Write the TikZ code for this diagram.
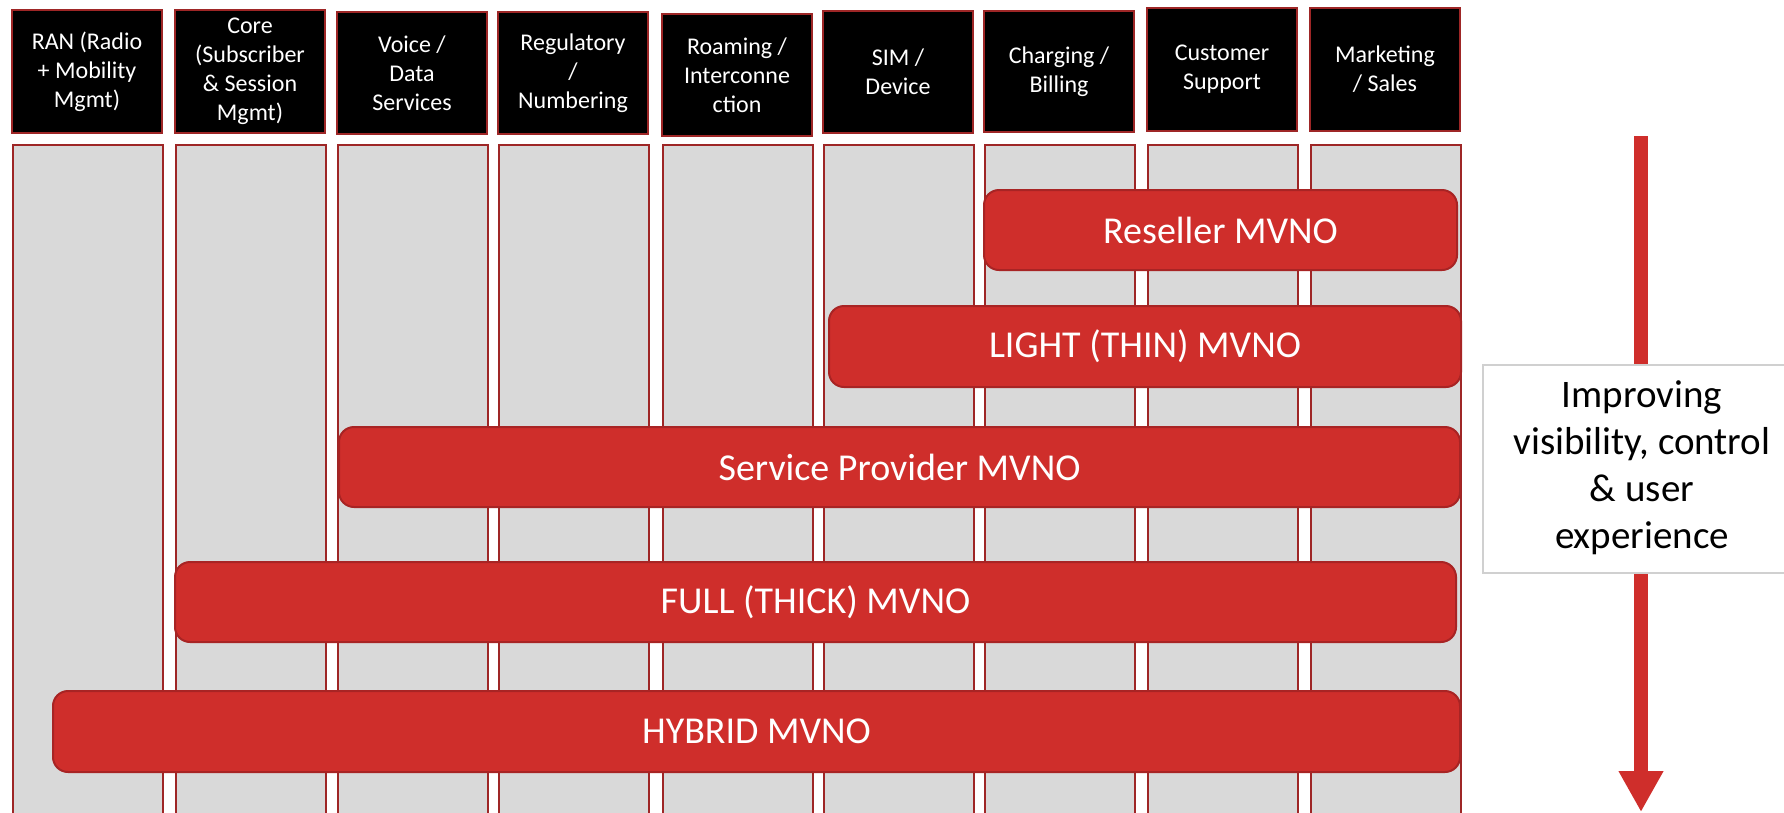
\documentclass[tikz,border=0pt]{standalone}
\usepackage{fontspec}
\setmainfont{Carlito}
\usetikzlibrary{arrows.meta}
\definecolor{edgered}{HTML}{9E2626}
\definecolor{barred}{HTML}{CF2E2B}
\definecolor{baredge}{HTML}{A82424}
\definecolor{colgrey}{HTML}{D9D9D9}
\definecolor{boxgrey}{HTML}{D0D0D0}
\tikzset{
  hdrbox/.style={draw=edgered, line width=2.2pt, fill=black, text=white, align=center,
    inner sep=0pt, font=\fontsize{24}{29}\selectfont},
  colbox/.style={draw=edgered, line width=1.8pt, fill=colgrey, inner sep=0pt},
  mvnobar/.style={draw=baredge, line width=2pt, fill=barred, rounded corners=15pt,
    text=white, inner sep=0pt, font=\fontsize{38}{46}\selectfont},
  gainbox/.style={draw=boxgrey, line width=1.5pt, fill=white, inner sep=0pt},
  gaintext/.style={align=center, font=\fontsize{39}{47}\selectfont, inner sep=0pt},
  trendarrow/.style={draw=barred, line width=14pt,
    -{Triangle[length=41pt 0 0, width=42pt 0 0]}}
}
\begin{document}
\begin{tikzpicture}[x=1pt,y=-1pt]
\useasboundingbox (0,0) rectangle (1784,812);
\clip (0,0) rectangle (1784,812);
\fill[white] (0,0) rectangle (1784,812);

% grey function columns
\foreach \i/\l in {1/12,2/175,3/337,4/498,5/662,6/823,7/984,8/1147,9/1310}{
  \node[colbox, minimum width=150pt, minimum height=700pt, anchor=north west]
    (col\i) at (\l,144) {};
}

% column headers
\foreach \i/\l/\t/\b/\txt in {
  1/12/10/133/{RAN (Radio\\+ Mobility\\Mgmt)},
  2/175/10/133/{Core\\(Subscriber\\\& Session\\Mgmt)},
  3/337/12/134/{Voice /\\Data\\Services},
  4/498/12/134/{Regulatory\\/\\Numbering},
  5/662/14/136/{Roaming /\\Interconne\\ction},
  6/823/11/133/{SIM /\\Device},
  7/984/11/132/{Charging /\\Billing},
  8/1147/8/131/{Customer\\Support},
  9/1310/8/131/{Marketing\\/ Sales}}{
  \pgfmathsetmacro\hh{\b-\t}
  \pgfmathsetmacro\cx{\l+75}
  \pgfmathsetmacro\cy{(\t+\b)/2}
  \node[hdrbox, minimum width=150pt, minimum height=\hh pt] (hdr\i) at (\cx,\cy) {\txt};
}

% MVNO types
\node[mvnobar, minimum width=473pt,  minimum height=80pt] (reseller) at (1220.5,230)  {Reseller MVNO};
\node[mvnobar, minimum width=632pt,  minimum height=81pt] (light)    at (1145,346.5)  {LIGHT (THIN) MVNO};
\node[mvnobar, minimum width=1121pt, minimum height=80pt] (sp)       at (899.5,467)   {Service Provider MVNO};
\node[mvnobar, minimum width=1281pt, minimum height=80pt] (full)     at (815.5,602)   {FULL (THICK) MVNO};
\node[mvnobar, minimum width=1407pt, minimum height=81pt] (hybrid)   at (756.5,731.5) {HYBRID MVNO};

% trend arrow with its caption box
\coordinate (arrtop) at (1641,136);
\coordinate (arrtip) at (1641,812);
\draw[trendarrow] (arrtop) -- (arrtip);
\node[gainbox, minimum width=310pt, minimum height=208pt, anchor=north west] (gain) at (1482,364) {};
\node[gaintext] (gainlabel) at (1642,468) {Improving\\visibility, control\\\& user\\experience};
\end{tikzpicture}
\end{document}
